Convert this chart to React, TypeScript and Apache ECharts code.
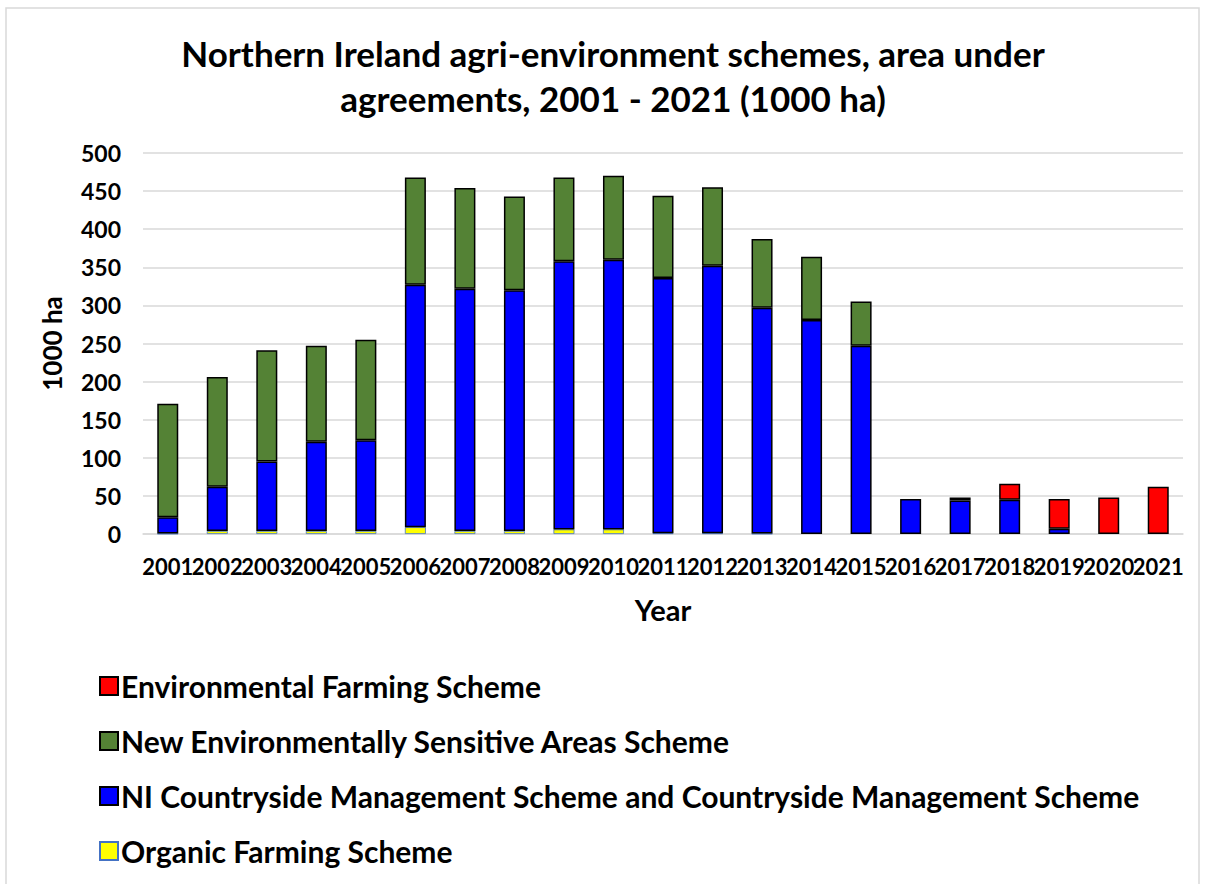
import React, { useEffect, useRef } from "react";
import * as echarts from "echarts";

const years = ["2001","2002","2003","2004","2005","2006","2007","2008","2009","2010","2011","2012","2013","2014","2015","2016","2017","2018","2019","2020","2021"];
const organic = [0.5, 4, 4, 4, 4, 9, 4, 4, 6, 6, 1, 1, 0.5, 0, 0, 0, 0, 0, 0, 0, 0];
const countryside = [21.5, 58, 91, 117, 119, 318, 318, 316, 352, 354, 335, 351, 296.5, 281, 247, 46, 44, 45, 7, 0, 0];
const nesa = [149, 144, 146, 126, 132, 141, 132, 123, 110, 110, 108, 103, 90, 83, 58, 0, 0, 0, 0, 0, 0];
const efs = [0, 0, 0, 0, 0, 0, 0, 0, 0, 0, 0, 0, 0, 0, 0, 0, 4, 21, 39, 48, 62];
const yTicks = { min: 0, max: 500, interval: 50 };

const FONT = "Lato";

export default function App() {
  const ref = useRef<HTMLDivElement>(null);
  useEffect(() => {
    document.body.style.margin = "0";
    const chart = echarts.init(ref.current!, null, { renderer: "svg" });
    const mk = (name: string, data: number[], color: string, border: string, bw: number) => ({
      name,
      type: "bar",
      stack: "total",
      data: data.map((v) => (v === 0 ? null : v)),
      barWidth: 21,
      itemStyle: { color, borderColor: border, borderWidth: bw },
    });
    chart.setOption({
      animation: false,
      backgroundColor: "#fff",
      title: {
        text: "Northern Ireland agri-environment schemes, area under\nagreements, 2001 - 2021 (1000 ha)",
        left: 608,
        textAlign: "center",
        top: 25,
        textStyle: { fontFamily: FONT, fontWeight: "bold", fontSize: 35, lineHeight: 45, color: "#000" },
      },
      graphic: [
        {
          type: "rect",
          shape: { x: 6, y: 8, width: 1193, height: 880 },
          style: { fill: "none", stroke: "#D9D9D9", lineWidth: 1.5 },
          silent: true,
        },
      ],
      legend: {
        orient: "vertical",
        left: 94,
        top: 666,
        itemGap: 25,
        itemWidth: 18,
        itemHeight: 18,
        icon: "rect",
        data: [
          "Environmental Farming Scheme",
          "New Environmentally Sensitive Areas Scheme",
          "NI Countryside Management Scheme and Countryside Management Scheme",
          "Organic Farming Scheme",
        ],
        textStyle: { fontFamily: FONT, fontWeight: "bold", fontSize: 30, lineHeight: 30, color: "#000", padding: [0, 0, 0, -2] },
      },
      grid: { left: 143, right: 22, top: 153, bottom: 350, containLabel: false },
      xAxis: {
        type: "category",
        data: years,
        name: "Year",
        nameLocation: "middle",
        nameGap: 61,
        nameTextStyle: { fontFamily: FONT, fontWeight: "bold", fontSize: 29, color: "#000" },
        axisLine: { lineStyle: { color: "#D9D9D9", width: 1.5 } },
        axisTick: { show: false },
        axisLabel: { interval: 0, fontFamily: FONT, fontWeight: "bold", fontSize: 22, color: "#000", margin: 21 },
      },
      yAxis: {
        type: "value",
        min: yTicks.min,
        max: yTicks.max,
        interval: yTicks.interval,
        name: "1000 ha",
        nameLocation: "middle",
        nameGap: 78,
        nameRotate: 90,
        nameTextStyle: { fontFamily: FONT, fontWeight: "bold", fontSize: 26, color: "#000" },
        axisLine: { show: false },
        axisTick: { show: false },
        axisLabel: { fontFamily: FONT, fontWeight: "bold", fontSize: 23, color: "#000", margin: 22 },
        splitLine: { lineStyle: { color: "#D9D9D9", width: 1.5 } },
      },
      series: [
        mk("Organic Farming Scheme", organic, "#FFFF00", "#4472C4", 0.8),
        mk("NI Countryside Management Scheme and Countryside Management Scheme", countryside, "#0000FF", "#000", 1.5),
        mk("New Environmentally Sensitive Areas Scheme", nesa, "#548235", "#000", 1.5),
        mk("Environmental Farming Scheme", efs, "#FF0000", "#000", 1.5),
      ],
    });
    return () => chart.dispose();
  }, []);
  return <div ref={ref} style={{ width: 1205, height: 884 }} />;
}
